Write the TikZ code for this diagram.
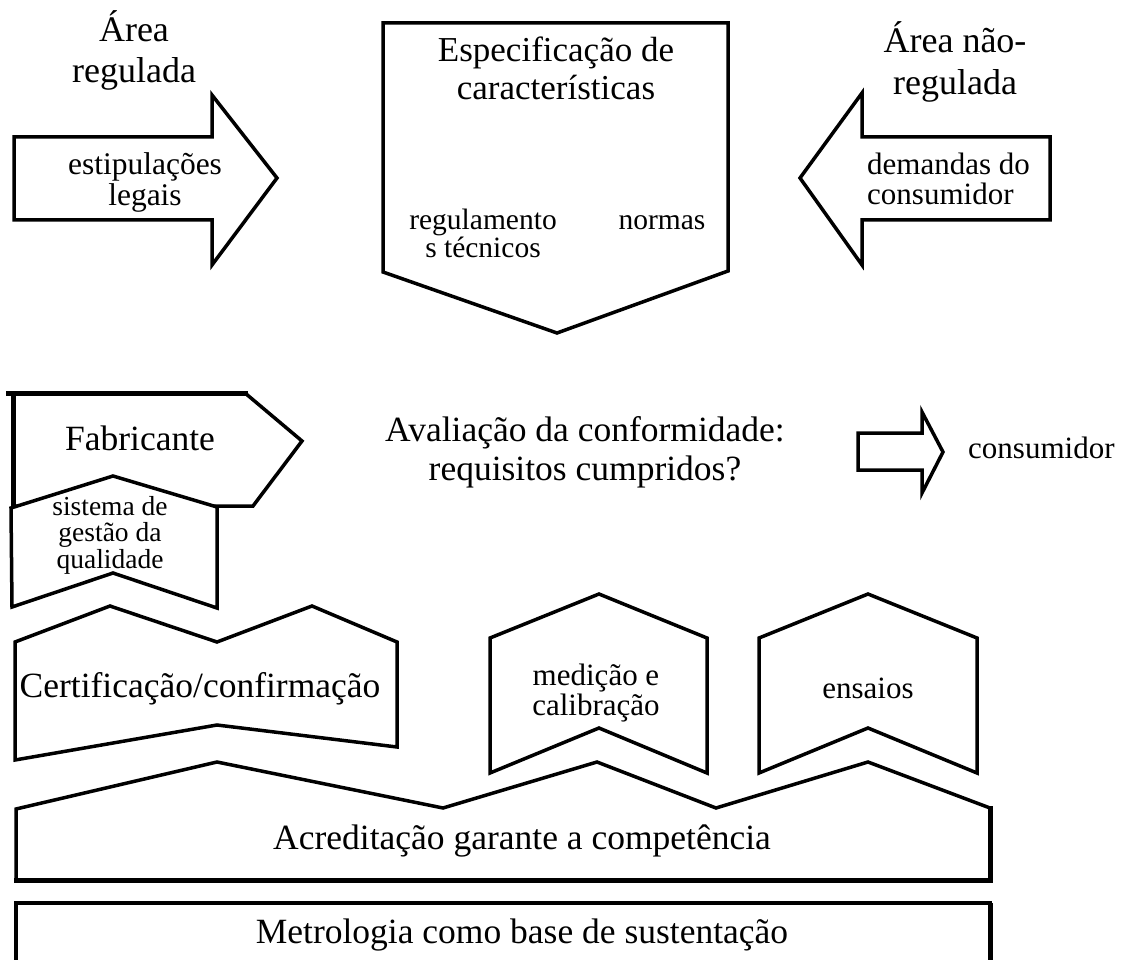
\documentclass[tikz,border=0pt]{standalone}
\usepackage{fontspec}
\setmainfont{Liberation Serif}
\newcommand\stk[1]{\begin{tabular}[t]{@{}c@{}}#1\end{tabular}}
\newcommand\stkl[1]{\begin{tabular}[t]{@{}l@{}}#1\end{tabular}}
\newcommand\fs[2]{\fontsize{#1}{#2}\selectfont}
\tikzset{
  shp/.style={draw=black, line width=3.5pt, line join=miter, fill=white},
  heavy/.style={draw=black, line width=5pt, line cap=rect},
  lbl/.style={inner sep=0pt, anchor=base},
  big/.style={font=\fs{35.5}{40}},
  mid/.style={font=\fs{31}{29}},
}
\begin{document}
\begin{tikzpicture}[x=1pt,y=-1pt]
\useasboundingbox (0,0) rectangle (1122,960);

% --- top row ---
\draw[shp] (14,137) -- (212,137) -- (212,95) -- (277,178) -- (212,265) -- (212,220) -- (14,220) -- cycle;
\draw[shp] (1050,137) -- (862,137) -- (862,93) -- (800,178) -- (862,265) -- (862,220) -- (1050,220) -- cycle;
\draw[shp] (383,23) -- (728,23) -- (728,271) -- (557,333) -- (383,272) -- cycle;

\node[lbl,big,font=\fs{36}{41}] (areareg) at (134,42) {\stk{Área\\regulada}};
\node[lbl,mid,font=\fs{31.5}{29}] (estip) at (145,175) {\stk{estipulações\\legais}};
\node[lbl,big,font=\fs{35}{38}] (espec) at (556,62) {\stk{Especificação de\\características}};
\node[lbl,font=\fs{29.5}{23}] (regtec) at (483,230) {\stk{regulamento\\s técnicos}};
\node[lbl,font=\fs{29.5}{23}] (normas) at (662,230) {normas};
\node[lbl,big,font=\fs{36}{42}] (areanreg) at (955,53) {\stk{Área não-\\regulada}};
\node[lbl,mid,anchor=base west,font=\fs{31}{28}] (demandas) at (867,175) {\stkl{demandas do\\consumidor}};

% --- middle row ---
\draw[shp] (13,393) -- (245,393) -- (302,441) -- (253,506) -- (13,506) -- cycle;
\draw[heavy] (8,393) -- (245,393);
\draw[heavy] (13,393) -- (13,506);
\draw[shp] (11,508) -- (113,476) -- (217,507) -- (217,608) -- (113,573) -- (12,607) -- cycle;

\node[lbl,big] (fabric) at (140,450) {Fabricante};
\node[lbl,font=\fs{27.5}{26}] (sgq) at (110,515) {\stk{sistema de\\gestão da\\qualidade}};

\node[lbl,big,font=\fs{35.5}{39}] (avalia) at (585,441) {\stk{Avaliação da conformidade:\\requisitos cumpridos?}};
\draw[shp] (858,433) -- (922,433) -- (922,412) -- (943,452) -- (922,493) -- (922,470) -- (858,470) -- cycle;
\node[lbl,mid,anchor=base west] (consum) at (968,458) {consumidor};

% --- lower row ---
\draw[shp] (15,642) -- (110,606) -- (217,642) -- (312,606) -- (397,642) -- (397,747) -- (217,725) -- (15,760) -- cycle;
\draw[shp] (490,638) -- (599,594) -- (707,638) -- (707,773) -- (599,728) -- (490,773) -- cycle;
\draw[shp] (759,638) -- (868,594) -- (977,638) -- (977,773) -- (868,728) -- (759,773) -- cycle;

\node[lbl,big] (certif) at (200,697) {Certificação/confirmação};
\node[lbl,mid,font=\fs{31}{30}] (medic) at (596,685) {\stk{medição e\\calibração}};
\node[lbl,mid] (ensaios) at (868,698) {ensaios};

% --- accreditation ---
\draw[shp] (16,809) -- (217,762) -- (443,808) -- (597,762) -- (716,808) -- (868,762) -- (990,808) -- (990,880) -- (16,880) -- cycle;
\draw[heavy] (990,808) -- (990,880) -- (16,880);
\node[lbl,big] (acred) at (522,849) {Acreditação garante a competência};

% --- metrology base ---
\draw[shp,fill=none] (16,960) -- (16,903) -- (990,903) -- (990,960);
\draw[heavy,line cap=butt] (990,903) -- (990,960);
\node[lbl,big] (metro) at (522,943) {Metrologia como base de sustentação};
\end{tikzpicture}
\end{document}
